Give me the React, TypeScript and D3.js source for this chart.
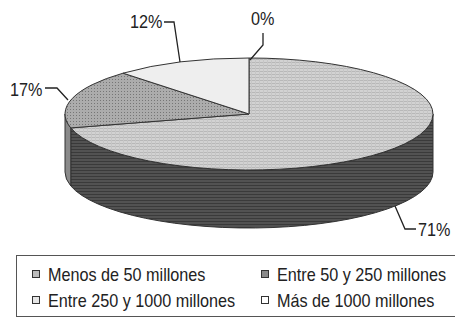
import React from "react";
import * as d3 from "d3";

const categories = ["Menos de 50 millones", "Entre 50 y 250 millones", "Entre 250 y 1000 millones", "Más de 1000 millones"];
const values = [71, 17, 12, 0];
const labels = ["71%", "17%", "12%", "0%"];

const W = 455, H = 318;
const cx = 249, cy = 114, rx = 184, ry = 56, depth = 58;

const topFills = ["url(#pMenos)", "url(#pEntre50)", "#eeeeee", "#ffffff"];
const sideFills = ["url(#pMenosSide)", "#8a8a8a", "#bbbbbb", "#cccccc"];
const legendFills = ["#bdbdbd", "#8a8a8a", "#e6e6e6", "#ffffff"];

function pt(a: number, dy = 0): [number, number] {
  return [cx + rx * Math.sin(a), cy - ry * Math.cos(a) + dy];
}

const SX = 0.9;

function T({ x, y, children, anchor = "start", size = 18 }: any) {
  return (
    <text transform={`translate(${x},${y}) scale(${SX},1)`} textAnchor={anchor} fontSize={size} fill="#222">
      {children}
    </text>
  );
}

export default function App() {
  const pie = d3.pie<number>().sort(null).value((d) => d)(values);
  const topPaths = pie.map((s) => {
    if (s.endAngle - s.startAngle <= 0) return null;
    const [x0, y0] = pt(s.startAngle);
    const [x1, y1] = pt(s.endAngle);
    const large = s.endAngle - s.startAngle > Math.PI ? 1 : 0;
    return `M${cx},${cy}L${x0},${y0}A${rx},${ry} 0 ${large} 1 ${x1},${y1}Z`;
  });
  const sidePaths = pie.map((s) => {
    const a0 = Math.max(s.startAngle, Math.PI / 2);
    const a1 = Math.min(s.endAngle, (3 * Math.PI) / 2);
    if (a1 <= a0) return null;
    const [x0, y0] = pt(a0);
    const [x1, y1] = pt(a1);
    return `M${x0},${y0}A${rx},${ry} 0 0 1 ${x1},${y1}L${x1},${y1 + depth}A${rx},${ry} 0 0 0 ${x0},${y0 + depth}Z`;
  });

  const legendX = [32, 261];
  const legendY = [281, 307];

  return (
    <svg width={W} height={H} style={{ position: "absolute", left: 0, top: 0 }} fontFamily="Liberation Sans, Arial, sans-serif">
      <defs>
        <pattern id="pMenos" width="4" height="3" patternUnits="userSpaceOnUse">
          <rect width="4" height="3" fill="#d2d2d2" />
          <rect y="2" width="4" height="1" fill="#b8b8b8" />
          <rect x="3" width="1" height="3" fill="#c6c6c6" />
        </pattern>
        <pattern id="pMenosSide" width="4" height="3" patternUnits="userSpaceOnUse">
          <rect width="4" height="3" fill="#525252" />
          <rect y="2" width="4" height="1" fill="#3a3a3a" />
        </pattern>
        <pattern id="pEntre50" width="3" height="3" patternUnits="userSpaceOnUse">
          <rect width="3" height="3" fill="#acacac" />
          <rect x="1" y="1" width="1" height="1" fill="#767676" />
        </pattern>
      </defs>
      <rect width={W} height={H} fill="#ffffff" />
      {sidePaths.map((d, i) => d && <path key={"s" + i} d={d} fill={sideFills[i]} stroke="#333" strokeWidth={1} />)}
      {topPaths.map((d, i) => d && <path key={"t" + i} d={d} fill={topFills[i]} stroke="#333" strokeWidth={1} />)}
      <g stroke="#222" strokeWidth={1.3} fill="none">
        <polyline points="395,206 405,229 416,229" />
        <polyline points="45,88 57,88 68,100" />
        <polyline points="164,22 174,22 180,62" />
        <polyline points="263,33 263,45 250,60" />
      </g>
      <T x={418} y={236}>{labels[0]}</T>
      <T x={10} y={96}>{labels[1]}</T>
      <T x={130} y={28}>{labels[2]}</T>
      <T x={251} y={25}>{labels[3]}</T>
      <rect x={16.5} y={255.5} width={452} height={61} fill="none" stroke="#555" strokeWidth={1} />
      {categories.map((c, i) => {
        const x = legendX[i % 2];
        const y = legendY[Math.floor(i / 2)];
        return (
          <g key={c}>
            <rect x={x + 0.5} y={y - 10.5} width={7} height={7} fill={legendFills[i]} stroke="#333" strokeWidth={1} />
            <T x={x + 16} y={y}>{c}</T>
          </g>
        );
      })}
    </svg>
  );
}
